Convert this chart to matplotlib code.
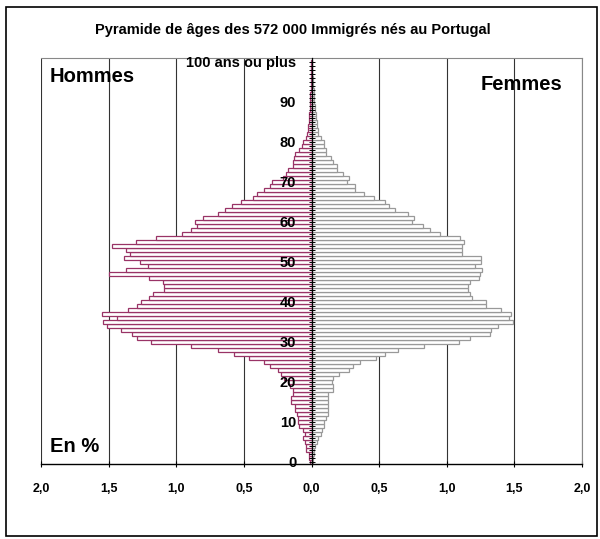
import numpy as np
import matplotlib
matplotlib.use("Agg")
import matplotlib.pyplot as plt
from matplotlib.patches import Rectangle
from matplotlib.ticker import FixedLocator, FuncFormatter

plt.rcParams['font.family'] = ['Liberation Sans', 'DejaVu Sans']

# ages 0 .. 100 (100 = "100 ans ou plus")
ages = np.arange(0, 101)

# percentage of the immigrant population, men (left side)
hommes = [0.01, 0.015, 0.02, 0.04, 0.04, 0.05, 0.06, 0.05, 0.06, 0.09, 0.10,
          0.10, 0.11, 0.125, 0.125, 0.15, 0.15, 0.14, 0.14, 0.16, 0.175,
          0.20, 0.225, 0.25, 0.31, 0.35, 0.46, 0.575, 0.69, 0.89, 1.19,
          1.29, 1.325, 1.41, 1.51, 1.54, 1.44, 1.55, 1.36, 1.29, 1.26,
          1.20, 1.175, 1.09, 1.09, 1.10, 1.20, 1.50, 1.375, 1.21, 1.27,
          1.39, 1.34, 1.375, 1.475, 1.30, 1.15, 0.96, 0.89, 0.85, 0.86,
          0.80, 0.69, 0.64, 0.59, 0.52, 0.43, 0.40, 0.35, 0.31, 0.29,
          0.21, 0.19, 0.175, 0.14, 0.14, 0.13, 0.12, 0.09, 0.07, 0.06,
          0.04, 0.03, 0.025, 0.025, 0.02, 0.015, 0.015, 0.012, 0.01, 0.01,
          0.008, 0.008, 0.006, 0.005, 0.005, 0.004, 0.003, 0.003, 0.002, 0.002]

# women (right side)
femmes = [0.01, 0.01, 0.015, 0.02, 0.025, 0.04, 0.05, 0.07, 0.08, 0.09, 0.09,
          0.11, 0.12, 0.12, 0.12, 0.12, 0.12, 0.125, 0.16, 0.16, 0.155,
          0.16, 0.20, 0.275, 0.31, 0.36, 0.475, 0.54, 0.64, 0.83, 1.09,
          1.175, 1.32, 1.33, 1.38, 1.49, 1.46, 1.475, 1.40, 1.29, 1.29,
          1.19, 1.17, 1.16, 1.16, 1.17, 1.24, 1.245, 1.26, 1.21, 1.25,
          1.25, 1.11, 1.11, 1.11, 1.125, 1.10, 0.95, 0.875, 0.825, 0.74,
          0.76, 0.71, 0.62, 0.57, 0.54, 0.46, 0.39, 0.325, 0.325, 0.26,
          0.275, 0.23, 0.19, 0.19, 0.16, 0.145, 0.11, 0.11, 0.09, 0.09,
          0.07, 0.05, 0.045, 0.04, 0.04, 0.03, 0.03, 0.025, 0.025, 0.02,
          0.02, 0.018, 0.015, 0.012, 0.01, 0.008, 0.006, 0.005, 0.004, 0.004]

age_ticks = [0, 10, 20, 30, 40, 50, 60, 70, 80, 90, 100]
age_labels = ['0', '10', '20', '30', '40', '50', '60', '70', '80', '90', '100 ans ou plus']
x_ticks = [-2.0, -1.5, -1.0, -0.5, 0.0, 0.5, 1.0, 1.5, 2.0]

fig = plt.figure(figsize=(6, 5.39), dpi=100)
ax = fig.add_axes([41 / 600, 75 / 539, 541 / 600, 406 / 539])

# outer frame of the chart
fig.patches.append(Rectangle((6 / 600, 3 / 539), 591 / 600, 529 / 539,
                             transform=fig.transFigure, fill=False,
                             edgecolor='black', linewidth=1.2))

# vertical grid
for x in x_ticks:
    if x != 0:
        ax.axvline(x, color='#333333', linewidth=0.8, zorder=0)

ax.barh(ages, -np.array(hommes), height=1.0, color='white',
        edgecolor='#993366', linewidth=0.9, zorder=2)
ax.barh(ages, femmes, height=1.0, color='white',
        edgecolor='#999999', linewidth=0.9, zorder=2)

ax.set_xlim(-2, 2)
ax.set_ylim(-0.6, 100.9)

# category axis at x = 0, labels drawn over the bars
ax.yaxis.set_zorder(5)
ax.spines['left'].set_position(('data', 0))
ax.spines['left'].set_zorder(4)
ax.spines['left'].set_linewidth(0.9)
ax.spines['right'].set_color('#888888')
ax.spines['top'].set_color('#888888')
ax.spines['bottom'].set_linewidth(1.0)
ax.yaxis.set_major_locator(FixedLocator(age_ticks))
ax.yaxis.set_minor_locator(FixedLocator(ages))
ax.set_yticklabels(age_labels, fontsize=10.5, fontweight='bold')
ax.tick_params(axis='y', which='both', direction='inout', length=4,
               width=0.7, pad=9)

ax.xaxis.set_major_locator(FixedLocator(x_ticks))
ax.xaxis.set_major_formatter(FuncFormatter(lambda v, p: f"{abs(v):.1f}".replace('.', ',')))
ax.tick_params(axis='x', direction='inout', length=5, width=0.8, pad=11,
               labelsize=9)
for lbl in ax.get_xticklabels():
    lbl.set_fontweight('bold')

fig.text(293 / 600, 1 - 30 / 539, "Pyramide de âges des 572 000 Immigrés nés au Portugal",
         ha='center', va='center', fontsize=10.5, fontweight='bold')
fig.text(50 / 600, 1 - 76 / 539, "Hommes", ha='left', va='center',
         fontsize=14.5, fontweight='bold')
fig.text(481 / 600, 1 - 85 / 539, "Femmes", ha='left', va='center',
         fontsize=14.5, fontweight='bold')
fig.text(50 / 600, 1 - 446 / 539, "En %", ha='left', va='center',
         fontsize=14.5, fontweight='bold')

plt.savefig("out.png", dpi=100)
